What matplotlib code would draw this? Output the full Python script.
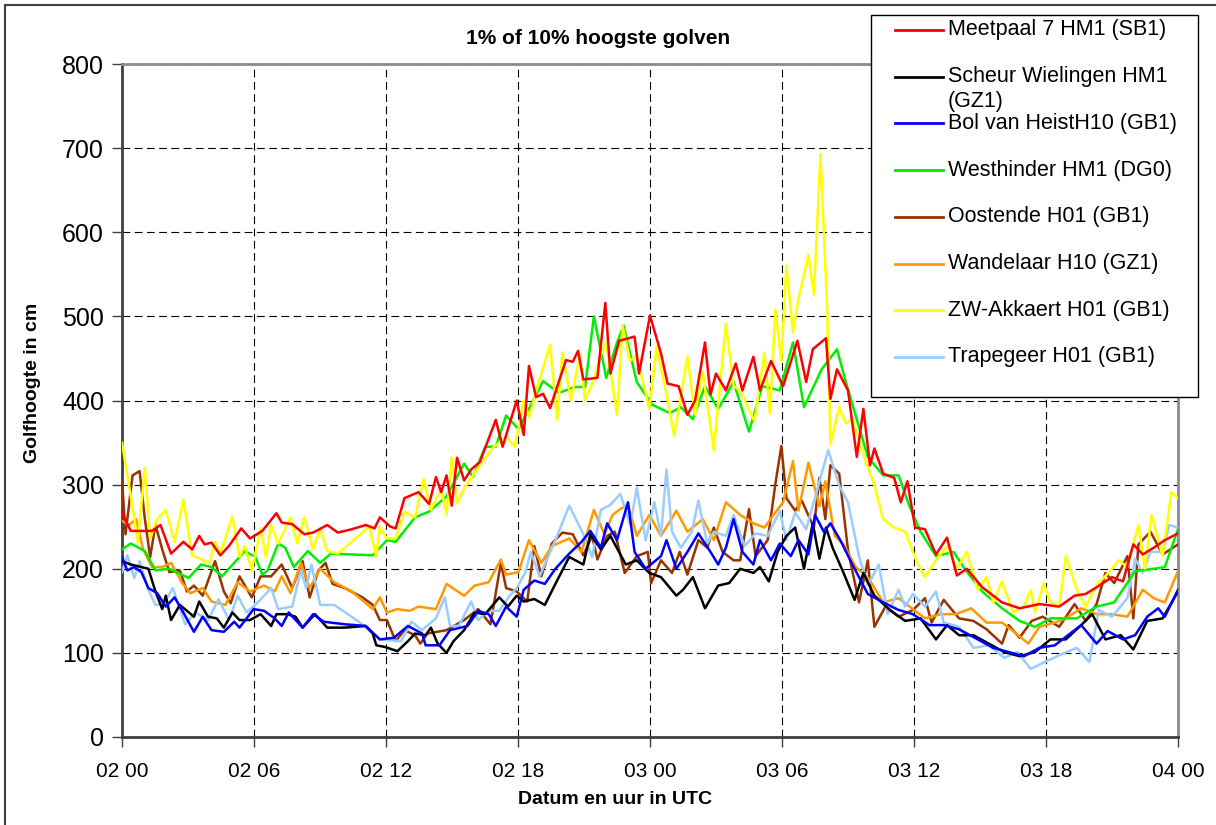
import matplotlib
matplotlib.use("Agg")
from matplotlib import pyplot as plt
from matplotlib.lines import Line2D
from matplotlib.patches import Rectangle

# hours after 02 00 UTC and wave height (cm)
meetpaal_h = [0, 0.4, 1.36, 1.75, 2.23, 2.79, 3.19, 3.51, 3.75, 4.07, 4.47, 4.86, 5.42, 5.82, 6.38, 7.02, 7.26,
              7.74, 8.29, 8.69, 9.33, 9.81, 10.45, 11.08, 11.48, 11.72, 12.2, 12.44, 12.84, 13.48, 13.96, 14.27,
              14.51, 14.75, 14.99, 15.23, 15.55, 15.87, 16.27, 16.99, 17.3, 17.94, 18.26, 18.5, 18.82, 19.14,
              19.46, 20.18, 20.49, 20.73, 20.97, 21.61, 21.97, 22.2, 22.6, 23.3, 23.5, 24.0, 24.5, 24.8, 25.3,
              25.7, 26.05, 26.5, 26.75, 27.0, 27.45, 27.9, 28.2, 28.7, 29.0, 29.5, 30.05, 30.7, 31.1, 31.4, 32.0,
              32.2, 32.5, 33.0, 33.4, 33.7, 34.0, 34.2, 34.6, 35.1, 35.4, 35.7, 36.05, 36.5, 37.0, 37.5, 37.95,
              38.4, 39.1, 40.0, 40.8, 41.7, 42.6, 43.3, 43.8, 44.3, 45.0, 45.5, 45.97, 46.4, 46.9, 47.4, 48]
meetpaal_v = [266, 245, 245, 252, 218, 232, 223, 239, 229, 231, 216, 227, 248, 236, 245, 266, 255,
              253, 241, 243, 252, 243, 247, 252, 248, 261, 250, 248, 284, 291, 277, 309,
              291, 311, 275, 332, 305, 318, 327, 377, 345, 400, 359, 441, 404, 408,
              391, 448, 446, 459, 425, 427, 516, 432, 471, 476, 432, 501, 456, 420, 417,
              383, 400, 469, 407, 432, 412, 444, 412, 452, 412, 447, 417, 471, 422, 461, 474,
              402, 437, 412, 333, 390, 323, 343, 313, 308, 279, 304, 249, 247, 217, 237, 192,
              200, 178, 160, 153, 158, 155, 168, 170, 178, 190, 185, 229, 217, 225, 234, 242]

scheur_h = [0, 0.4, 0.88, 1.2, 1.52, 1.83, 1.99, 2.23, 2.63, 2.95, 3.27, 3.51, 3.91, 4.31, 4.63, 5.02, 5.34,
            5.82, 6.3, 6.78, 7.02, 7.5, 7.89, 8.21, 8.77, 9.33, 10.13, 11.08, 11.4, 11.56, 11.96, 12.52, 13.0,
            13.32, 13.8, 14.04, 14.35, 14.75, 15.07, 15.55, 16.03, 16.51, 17.15, 17.54, 17.94, 18.26, 18.74,
            19.22, 19.7, 20.33, 20.97, 21.29, 21.77, 22.2, 22.9, 23.4, 23.97, 24.5, 25.2, 25.5, 25.95, 26.5,
            27.1, 27.6, 28.1, 28.7, 29.0, 29.4, 29.8, 30.2, 30.6, 31.0, 31.4, 31.7, 32.0, 32.3, 32.8, 33.3,
            33.7, 34.2, 34.9, 35.6, 36.3, 37.0, 37.5, 38.05, 38.7, 39.4, 40.1, 40.8, 41.5, 42.2, 42.9, 43.6,
            44.1, 44.7, 45.4, 45.97, 46.6, 47.3, 48]
scheur_v = [209, 205, 202, 200, 173, 152, 168, 139, 157, 150, 143, 161, 143, 141, 130, 148, 139,
            139, 146, 132, 146, 146, 143, 130, 146, 130, 130, 132, 123, 109, 107, 102, 114,
            123, 121, 130, 111, 100, 114, 127, 148, 146, 166, 155, 168, 161, 164,
            157, 182, 214, 205, 241, 223, 239, 205, 210, 195, 190, 168, 175, 190, 153,
            180, 183, 200, 195, 202, 185, 220, 239, 249, 200, 254, 212, 249, 225, 195, 163,
            195, 168, 151, 138, 141, 116, 133, 121, 121, 111, 101, 96, 101, 116, 116, 133,
            146, 116, 121, 104, 138, 141, 173]

bol_h = [0, 0.24, 0.56, 0.88, 1.2, 1.6, 1.99, 2.39, 2.79, 3.27, 3.67, 4.07, 4.63, 5.1, 5.34, 5.98, 6.46,
         6.94, 7.26, 7.58, 8.21, 8.69, 9.17, 10.13, 11.08, 11.72, 12.36, 13.0, 13.64, 13.8, 14.43, 14.91,
         15.71, 16.19, 16.67, 16.99, 17.46, 17.94, 18.26, 18.74, 19.22, 19.7, 20.33, 20.89, 21.29, 21.77,
         22.05, 22.5, 23.0, 23.3, 23.8, 24.5, 24.75, 25.2, 25.7, 26.2, 26.75, 27.1, 27.45, 27.8, 28.2, 28.7,
         29.0, 29.5, 29.9, 30.4, 30.75, 31.2, 31.5, 31.9, 32.2, 32.65, 33.2, 33.9, 34.6, 35.3, 35.95, 36.7,
         37.35, 38.05, 38.9, 39.6, 40.3, 41.0, 41.7, 42.4, 43.1, 43.6, 44.3, 44.8, 45.5, 46.05, 46.6, 47.1,
         47.4, 48]
bol_v = [214, 198, 202, 196, 177, 171, 155, 166, 148, 125, 143, 127, 125, 137, 130, 152, 150,
         141, 132, 148, 130, 146, 137, 134, 132, 116, 118, 132, 123, 109, 109, 127,
         132, 150, 146, 132, 155, 143, 175, 186, 182, 200, 218, 232, 245, 225,
         254, 234, 279, 220, 200, 215, 234, 200, 220, 242, 220, 205, 225, 259, 220, 205,
         234, 210, 230, 215, 234, 217, 264, 244, 254, 234, 205, 170, 160, 151, 146, 133,
         133, 128, 116, 106, 101, 96, 106, 109, 123, 133, 111, 126, 116, 121, 143, 153,
         143, 175]

westhinder_h = [0, 0.4, 1.04, 1.52, 2.15, 3.03, 3.59, 4.07, 4.55, 5.58, 6.06, 6.38, 6.62, 7.1, 7.42, 7.81,
                8.45, 9.01, 9.49, 11.4, 12.04, 12.44, 13.32, 13.96, 14.75, 15.55, 15.95, 16.51, 16.99, 17.46,
                18.02, 19.14, 19.86, 20.57, 21.05, 21.45, 22.01, 22.49, 22.8, 23.4, 24.1, 24.9, 25.4, 25.95,
                26.5, 27.1, 27.8, 28.5, 29.1, 29.9, 30.5, 31.0, 31.8, 32.5, 32.9, 33.9, 34.6, 35.3, 35.8, 36.3,
                37.0, 37.8, 38.3, 39.1, 40.0, 40.8, 41.5, 42.2, 43.4, 44.3, 45.1, 46.05, 46.9, 47.4, 48]
westhinder_v = [223, 230, 221, 198, 200, 189, 205, 202, 191, 221, 214, 193, 198, 230, 225, 202,
                221, 207, 218, 216, 234, 232, 261, 268, 286, 325, 309, 345, 345, 382,
                366, 423, 409, 416, 416, 500, 427, 468, 489, 422, 395, 385, 392, 378,
                417, 390, 422, 363, 417, 412, 469, 392, 437, 461, 422, 333, 311, 311, 274, 244,
                215, 220, 200, 173, 153, 138, 131, 141, 141, 155, 160, 197, 200, 202, 247]

oostende_h = [0, 0.16, 0.48, 0.8, 1.04, 1.28, 1.52, 1.83, 2.15, 2.63, 2.95, 3.27, 3.67, 4.23, 4.63, 4.94,
              5.34, 5.9, 6.3, 6.78, 7.26, 7.74, 8.21, 8.53, 8.93, 9.25, 9.57, 10.13, 10.93, 11.4, 11.72,
              12.04, 12.44, 12.84, 13.32, 13.56, 13.88, 14.75, 15.55, 16.19, 16.75, 17.22, 17.46, 17.94,
              18.42, 18.74, 19.06, 19.54, 20.02, 20.49, 20.97, 21.37, 21.61, 22.05, 22.4, 22.85, 23.4, 23.9,
              24.05, 24.5, 25.0, 25.35, 25.7, 26.2, 26.6, 26.9, 27.3, 27.8, 28.1, 28.5, 28.8, 29.35, 29.7,
              29.97, 30.2, 30.6, 30.9, 31.45, 31.7, 31.97, 32.2, 32.6, 33.0, 33.5, 33.9, 34.2, 34.7, 35.3,
              35.95, 36.5, 36.8, 37.35, 38.05, 38.7, 39.3, 40.0, 40.3, 40.8, 41.35, 41.85, 42.6, 43.3, 43.8,
              44.3, 44.7, 45.1, 45.7, 45.97, 46.2, 46.75, 47.3, 48]
oostende_v = [307, 241, 311, 316, 259, 214, 252, 223, 196, 198, 173, 180, 168, 209, 173, 159,
              191, 166, 191, 191, 205, 177, 209, 166, 198, 207, 182, 177, 166, 157, 139,
              139, 114, 127, 121, 111, 123, 127, 139, 152, 134, 207, 177, 173,
              161, 227, 191, 230, 243, 241, 216, 239, 211, 239, 244, 195, 215, 220,
              183, 210, 195, 220, 193, 234, 225, 249, 220, 210, 210, 271, 215, 234, 301,
              346, 284, 269, 281, 249, 308, 259, 323, 313, 222, 160, 210, 131, 155, 143,
              151, 165, 136, 163, 141, 138, 128, 111, 133, 118, 138, 143, 131, 158, 138,
              158, 195, 183, 215, 141, 229, 244, 217, 229]

wandelaar_h = [0, 0.32, 0.64, 0.96, 1.36, 1.83, 2.23, 2.71, 3.11, 3.67, 4.07, 4.7, 5.26, 5.82, 6.46, 6.94,
               7.26, 7.66, 8.13, 8.53, 9.01, 9.65, 10.45, 11.4, 11.72, 12.04, 12.52, 13.08, 13.48, 14.27,
               14.75, 15.15, 15.55, 16.03, 16.67, 17.22, 17.46, 18.02, 18.5, 19.06, 19.54, 20.33, 20.89,
               21.45, 21.93, 22.3, 22.65, 23.0, 23.4, 23.97, 24.5, 25.2, 25.7, 26.4, 26.9, 27.45, 28.1, 28.7,
               29.2, 29.7, 30.05, 30.5, 30.75, 31.2, 31.7, 31.97, 32.4, 32.8, 33.35, 33.9, 34.6, 35.3, 35.8,
               36.5, 37.2, 37.9, 38.6, 39.3, 40.0, 40.5, 41.2, 41.7, 42.4, 42.9, 43.6, 44.3, 45.0, 45.7, 46.4,
               46.9, 47.4, 48]
wandelaar_v = [257, 252, 259, 223, 202, 202, 207, 184, 171, 177, 161, 157, 184, 173, 180, 173,
               191, 171, 207, 177, 200, 184, 173, 152, 166, 148, 152, 150, 155, 152,
               182, 175, 168, 180, 184, 211, 193, 196, 234, 207, 227, 236, 220,
               270, 241, 264, 271, 276, 239, 264, 239, 269, 244, 259, 234, 279, 264, 254,
               249, 267, 279, 328, 269, 326, 274, 304, 239, 229, 202, 190, 160, 165, 155,
               141, 146, 146, 153, 136, 136, 126, 111, 131, 136, 141, 153, 146, 146, 143, 175,
               165, 160, 197]

akkaert_h = [0, 0.4, 0.72, 1.04, 1.28, 1.6, 1.99, 2.39, 2.79, 3.19, 3.99, 4.23, 4.47, 5.02, 5.34, 5.58, 5.9,
             6.3, 6.54, 6.78, 7.1, 7.66, 7.97, 8.29, 8.69, 9.01, 9.33, 9.81, 11.24, 11.56, 11.72, 12.04, 12.44,
             12.84, 13.32, 13.72, 14.04, 14.51, 14.75, 14.99, 15.23, 15.55, 16.19, 16.83, 17.46, 17.86, 18.26,
             18.5, 19.06, 19.46, 19.78, 20.02, 20.41, 20.81, 21.05, 21.45, 21.77, 22.0, 22.5, 22.75, 23.1,
             23.4, 23.97, 24.3, 24.75, 25.1, 25.7, 26.05, 26.4, 26.9, 27.45, 27.8, 28.1, 28.75, 29.2, 29.45,
             29.7, 29.97, 30.2, 30.5, 30.75, 31.2, 31.45, 31.75, 32.05, 32.2, 32.6, 32.9, 33.2, 33.7, 34.2,
             34.6, 35.1, 35.6, 36.1, 36.5, 37.0, 37.5, 37.95, 38.4, 38.9, 39.3, 39.6, 40.0, 40.5, 41.0, 41.3,
             41.5, 41.9, 42.2, 42.6, 42.9, 43.4, 43.8, 44.3, 45.0, 45.3, 45.7, 46.2, 46.5, 46.8, 47.3, 47.7, 48]
akkaert_v = [350, 286, 232, 320, 236, 259, 270, 232, 282, 216, 207, 232, 218, 262, 214, 227, 198,
             248, 214, 252, 230, 261, 230, 261, 223, 248, 221, 218, 250, 214, 250, 236, 236,
             268, 261, 307, 270, 295, 264, 332, 278, 295, 320, 343, 357, 345, 400,
             380, 432, 466, 377, 457, 400, 455, 400, 425, 455, 469, 383, 489, 447,
             454, 390, 464, 407, 358, 452, 383, 434, 341, 491, 417, 412, 375, 457, 385,
             508, 447, 560, 481, 521, 573, 526, 693, 511, 348, 392, 373, 378, 336, 299,
             259, 249, 244, 210, 190, 210, 227, 200, 220, 175, 190, 160, 185, 148, 155, 175,
             148, 183, 160, 155, 215, 175, 155, 180, 200, 210, 202, 252, 200, 264, 215, 291, 284]

trapegeer_h = [0, 0.24, 0.56, 0.8, 1.2, 1.52, 1.91, 2.31, 2.87, 3.35, 3.91, 4.39, 4.86, 5.26, 5.66, 6.14,
               6.78, 7.1, 7.74, 8.13, 8.37, 8.61, 9.01, 9.65, 10.77, 11.72, 12.68, 13.16, 13.64, 14.27, 14.67,
               14.91, 15.31, 15.87, 16.19, 16.67, 17.15, 17.62, 17.94, 18.34, 18.58, 18.98, 19.7, 20.33, 20.97,
               21.37, 21.77, 22.2, 22.65, 23.1, 23.4, 23.8, 24.2, 24.5, 24.75, 25.0, 25.4, 25.9, 26.2, 26.6,
               26.9, 27.45, 27.8, 28.3, 28.8, 29.35, 29.9, 30.2, 30.6, 31.1, 31.6, 32.1, 32.6, 33.0, 33.5,
               33.9, 34.4, 34.8, 35.3, 35.6, 35.95, 36.5, 37.0, 37.35, 38.05, 38.7, 39.4, 40.1, 40.7, 41.3,
               42.1, 42.75, 43.4, 43.97, 44.4, 45.0, 45.7, 46.05, 46.4, 46.75, 47.3, 47.6, 48]
trapegeer_v = [196, 216, 189, 209, 175, 157, 159, 177, 134, 148, 139, 164, 139, 168, 148, 159,
               177, 152, 155, 198, 177, 205, 157, 157, 137, 116, 114, 137, 127, 141, 166,
               132, 132, 161, 139, 150, 150, 168, 177, 196, 220, 191, 234, 275, 241,
               214, 270, 276, 289, 252, 296, 234, 279, 239, 318, 244, 225, 244, 281, 230,
               244, 239, 264, 227, 242, 239, 269, 234, 267, 247, 294, 341, 299, 279, 215,
               180, 205, 146, 175, 155, 170, 155, 173, 136, 131, 106, 109, 94, 101, 81,
               91, 99, 106, 89, 151, 143, 165, 212, 195, 220, 220, 252, 249]

labels = ["Meetpaal 7 HM1 (SB1)", "Scheur Wielingen HM1\n(GZ1)", "Bol van HeistH10 (GB1)",
          "Westhinder HM1 (DG0)", "Oostende H01 (GB1)", "Wandelaar H10 (GZ1)",
          "ZW-Akkaert H01 (GB1)", "Trapegeer H01 (GB1)"]
colors = ["#ff0000", "#000000", "#0000ff", "#00ee00", "#993300", "#ff9900", "#ffff00", "#99ccff"]
series = [(meetpaal_h, meetpaal_v), (scheur_h, scheur_v), (bol_h, bol_v), (westhinder_h, westhinder_v),
          (oostende_h, oostende_v), (wandelaar_h, wandelaar_v), (akkaert_h, akkaert_v),
          (trapegeer_h, trapegeer_v)]
# drawing order: later ones on top
draw_order = [4, 5, 7, 1, 2, 3, 6, 0]

xticks = [0, 6, 12, 18, 24, 30, 36, 42, 48]
xticklabels = ["02 00", "02 06", "02 12", "02 18", "03 00", "03 06", "03 12", "03 18", "04 00"]

W, H = 1216, 825
plt.rcParams['font.family'] = ['Liberation Sans', 'DejaVu Sans']

fig = plt.figure(figsize=(W / 100, H / 100), dpi=100)

# outer chart frame (only left/top edges visible in the crop)
fig.add_artist(Line2D([5 / W, 5 / W], [0, 1 - 5 / H], color='#404040', lw=1.5))
fig.add_artist(Line2D([5 / W, 1], [1 - 5 / H, 1 - 5 / H], color='#404040', lw=1.5))

ax = fig.add_axes([122 / W, 1 - 737 / H, (1178 - 122) / W, (737 - 64) / H])
for i in draw_order:
    hs, vs = series[i]
    ax.plot(hs, vs, color=colors[i], lw=1.8, solid_joinstyle='round', zorder=3)

ax.set_xlim(0, 48)
ax.set_ylim(0, 800)
ax.set_xticks(xticks)
ax.set_xticklabels(xticklabels, fontsize=15)
ax.set_yticks(range(0, 801, 100))
ax.tick_params(axis='y', labelsize=18, length=7, width=1, color='#404040', pad=6)
ax.tick_params(axis='x', length=7, width=1, color='#404040', pad=11)
ax.grid(True, color='#000000', linestyle=(0, (7, 4)), lw=0.8, zorder=1)
ax.spines['left'].set_color('#404040')
ax.spines['bottom'].set_color('#404040')
ax.spines['left'].set_linewidth(2)
ax.spines['bottom'].set_linewidth(2)
ax.spines['top'].set_color('#8c8c8c')
ax.spines['right'].set_color('#8c8c8c')
ax.spines['top'].set_linewidth(2)
ax.spines['right'].set_linewidth(2)

fig.text(598 / W, 1 - 38 / H, "1% of 10% hoogste golven", ha='center', va='center',
         fontsize=15, fontweight='bold')
fig.text(33 / W, 1 - 383 / H, "Golfhoogte in cm", rotation=90, ha='center', va='center',
         fontsize=14, fontweight='bold')
fig.text(615 / W, 1 - 800 / H, "Datum en uur in UTC", ha='center', va='center',
         fontsize=14, fontweight='bold')

# legend box drawn in figure pixels
fig.add_artist(Rectangle((871 / W, 1 - 397 / H), (1198 - 871) / W, (397 - 15) / H,
                         transform=fig.transFigure, facecolor='white', edgecolor='#000000',
                         lw=1, zorder=10))
for k, lab in enumerate(labels):
    yc = 1 - (30 + k * 46.7) / H
    fig.add_artist(Line2D([895 / W, 943 / W], [yc, yc], color=colors[k], lw=2, zorder=11))
    fig.text(948 / W, yc, lab.split("\n")[0], ha='left', va='center', fontsize=15.5, zorder=12)
    if "\n" in lab:
        fig.text(948 / W, yc - 25 / H, lab.split("\n")[1], ha='left', va='center',
                 fontsize=15.5, zorder=12)

fig.savefig("out.png", dpi=100)
